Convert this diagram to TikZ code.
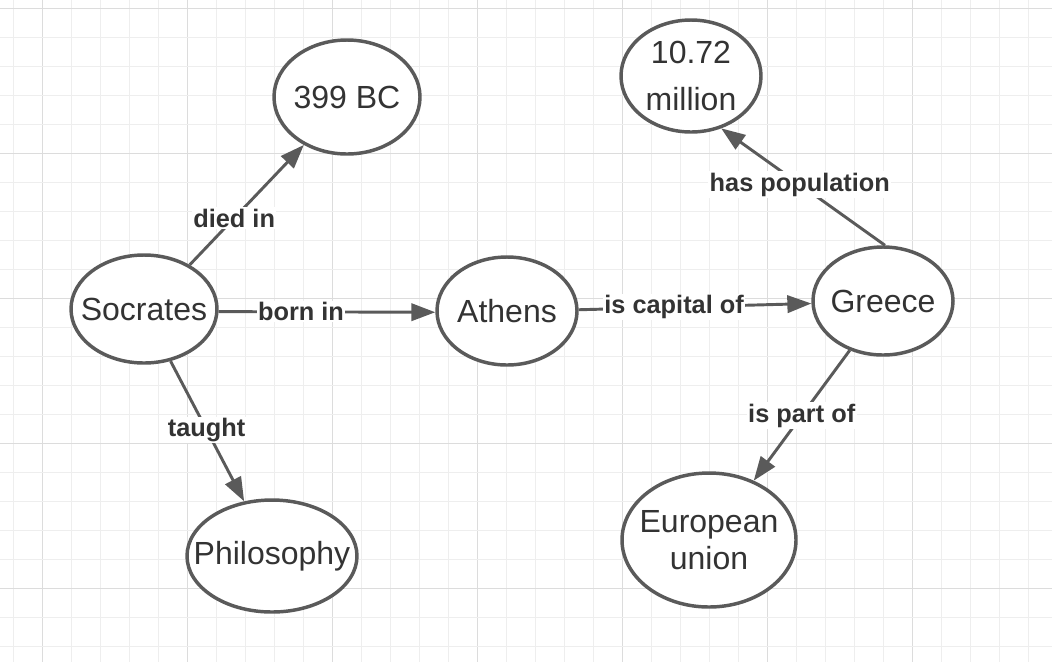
\documentclass[tikz,border=0pt]{standalone}
\usepackage{fontspec}
\setmainfont{Liberation Sans}
\usetikzlibrary{arrows.meta,shapes.geometric}
\definecolor{cLine}{HTML}{5A5A5A}
\definecolor{cText}{HTML}{333333}
\definecolor{cGridMin}{HTML}{EEEEEE}
\definecolor{cGridMaj}{HTML}{DCDCDC}
\tikzset{
  ent/.style={ellipse, draw=cLine, line width=2.6pt, fill=white, text=cText,
              align=center, inner xsep=-25pt, inner ysep=-12pt,
              font=\fontsize{24}{28}\selectfont},
  rel/.style={-{Triangle[length=18pt,width=13pt]}, line width=2.2pt, cLine},
  lbl/.style={fill=white, text=cText, inner sep=1pt,
              font=\fontsize{19}{23}\selectfont\bfseries},
  gmin/.style={cGridMin, line width=0.8pt},
  gmaj/.style={cGridMaj, line width=0.8pt},
}

\begin{document}
\begin{tikzpicture}[x=0.75pt, y=-0.75pt]
  \useasboundingbox (0,0) rectangle (1052,662);
  % grid
  \foreach \k in {0,...,35} {
    \pgfmathtruncatemacro{\m}{mod(\k,5)}
    \ifnum\m=1 \draw[gmaj] ({13.7+29*\k},0) -- ({13.7+29*\k},662);
    \else \draw[gmin] ({13.7+29*\k},0) -- ({13.7+29*\k},662); \fi
  }
  \foreach \k in {0,...,22} {
    \pgfmathtruncatemacro{\m}{mod(\k,5)}
    \ifnum\m=0 \draw[gmaj] (0,{8.3+29*\k}) -- (1052,{8.3+29*\k});
    \else \draw[gmin] (0,{8.3+29*\k}) -- (1052,{8.3+29*\k}); \fi
  }

  % entities
  \node[ent, minimum width=109.5pt, minimum height=81pt] (soc) at (144,309) {Socrates};
  \node[ent, minimum width=109.5pt, minimum height=85.5pt] (bc) at (347,97) {399 BC};
  \node[ent, minimum width=105pt, minimum height=81pt] (ath) at (507,311) {Athens};
  \node[ent, minimum width=105pt, minimum height=81pt] (gre) at (883,301) {Greece};
  \node[ent, minimum width=105pt, minimum height=84pt,
        font=\fontsize{24}{35.5}\selectfont] (pop) at (691,76) {10.72\\million};
  \node[ent, minimum width=127.5pt, minimum height=84pt] (phil) at (272,556) {Philosophy};
  \node[ent, minimum width=130.5pt, minimum height=100.5pt] (eu) at (709,540) {European\\union};

  % relations
  \draw[rel] (soc.44) -- node[lbl, pos=0.39] {died in} (bc.228);
  \draw[rel] (soc.-2) -- node[lbl, pos=0.38] {born in} (ath.181);
  \draw[rel] (soc.-63) -- node[lbl, pos=0.49] {taught} (phil.117);
  \draw[rel] (ath.1) -- node[lbl, pos=0.41] {is capital of} (gre.182);
  \draw[rel] (gre.88) -- node[lbl, pos=0.52] {has population} (pop.-60);
  \draw[rel] (gre.236) -- node[lbl, pos=0.5] {is part of} (eu.53);
\end{tikzpicture}
\end{document}
